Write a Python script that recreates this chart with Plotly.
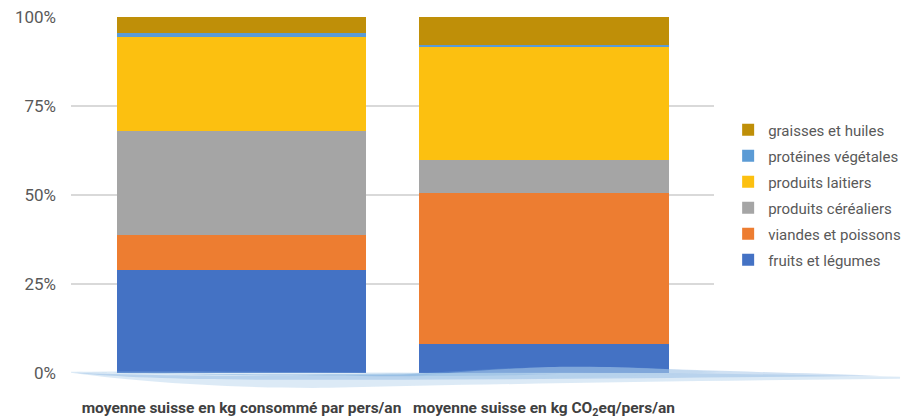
import plotly.graph_objects as go

categories = ["moyenne suisse en kg consommé par pers/an",
              "moyenne suisse en kg CO<sub>2</sub>eq/pers/an"]

fruits_legumes = [29.0, 8.2]
viandes_poissons = [9.8, 42.3]
produits_cerealiers = [29.3, 9.4]
produits_laitiers = [26.3, 31.7]
proteines_vegetales = [1.0, 0.6]
graisses_huiles = [4.6, 7.8]

series_names = ["fruits et légumes", "viandes et poissons", "produits céréaliers",
                "produits laitiers", "protéines végétales", "graisses et huiles"]
series_values = [fruits_legumes, viandes_poissons, produits_cerealiers,
                 produits_laitiers, proteines_vegetales, graisses_huiles]
series_colors = ["#4472C4", "#ED7D31", "#A5A5A5", "#FCC010", "#5B9BD5", "#BF8F08"]

tick_vals = [0, 25, 50, 75, 100]
tick_text = ["0%", "25%", "50%", "75%", "100%"]

FONT = "Roboto, sans-serif"

fig = go.Figure()
for i, (name, vals, col) in enumerate(zip(series_names, series_values, series_colors)):
    fig.add_trace(go.Bar(x=categories, y=vals, name=name, marker_color=col,
                         marker_line_width=0, width=0.826, legendgroup=name,
                         legendrank=1000 - i))

# decorative water wave at the base (pixel -> paper conversion)
L, R, T, B = 71, 714, 17.2, 373.2
def px(x, y):
    return f"{(x - L) / (R - L):.4f},{(B - y) / (B - T):.4f}"

waves = [
    (f"M {px(71,372)} C {px(200,371)} {px(350,373)} {px(480,373)} "
     f"C {px(600,372)} {px(750,374)} {px(900,377)} L {px(900,379)} "
     f"C {px(700,381)} {px(500,384)} {px(330,388)} C {px(220,389)} {px(120,380)} {px(71,373)} Z",
     "rgba(155,194,230,0.35)"),
    (f"M {px(75,373)} C {px(150,376)} {px(250,377)} {px(400,375)} "
     f"C {px(500,368)} {px(560,365)} {px(640,368)} C {px(700,371)} {px(800,373)} {px(880,376)} "
     f"C {px(700,378)} {px(500,380)} {px(300,380)} C {px(200,380)} {px(120,378)} {px(75,373)} Z",
     "rgba(120,170,220,0.35)"),
    (f"M {px(72,372)} C {px(150,374)} {px(250,375)} {px(380,374)} "
     f"C {px(450,373)} {px(500,373)} {px(560,374)} C {px(500,377)} {px(300,378)} {px(72,372)} Z",
     "rgba(91,155,213,0.35)"),
    (f"M {px(400,378)} C {px(450,372)} {px(520,368)} {px(560,367)} "
     f"C {px(620,366)} {px(680,370)} {px(720,372)} C {px(650,377)} {px(500,381)} {px(400,378)} Z",
     "rgba(180,208,235,0.45)"),
]
for path, col in waves:
    fig.add_shape(type="path", path=path, xref="paper", yref="paper",
                  fillcolor=col, line_width=0, layer="above")

fig.update_layout(
    width=906, height=420,
    margin=dict(l=L, r=906 - R, t=T, b=420 - B, pad=0, autoexpand=False),
    barmode="stack",
    plot_bgcolor="white", paper_bgcolor="white",
    font=dict(family=FONT, color="#595959", size=15),
    showlegend=True,
    legend=dict(x=1.022, xanchor="left", y=0.5, yanchor="middle",
                traceorder="grouped", tracegroupgap=3.5,
                font=dict(family=FONT, size=15, color="#595959"),
                bgcolor="rgba(0,0,0,0)"),
    xaxis=dict(range=[-0.5636, 1.562], showgrid=False, showline=False, zeroline=False,
               ticks="", ticklabelstandoff=23, tickangle=0, automargin=False,
               tickfont=dict(family=FONT, size=15.5, color="#404040", weight="bold")),
    yaxis=dict(range=[0, 100], tickvals=tick_vals, ticktext=tick_text, automargin=False,
               showgrid=True, gridcolor="#D9D9D9", gridwidth=1.5,
               zeroline=False, showline=False, ticks="", ticklabelstandoff=14,
               tickfont=dict(family=FONT, size=17, color="#595959")),
)

fig.write_html("out.html")
